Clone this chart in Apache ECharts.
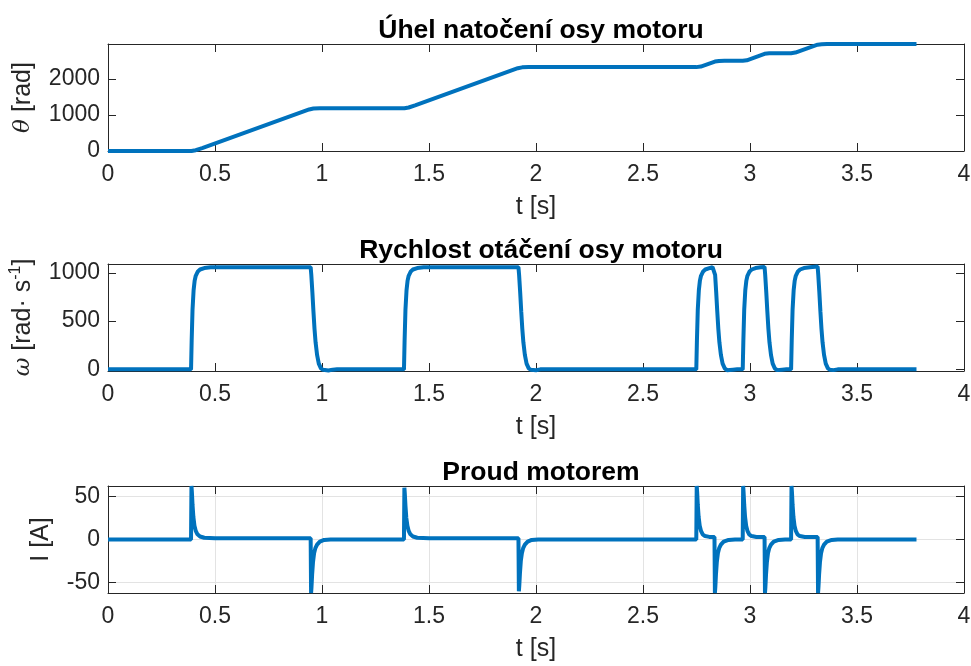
<!DOCTYPE html>
<html><head><meta charset="utf-8">
<script src="https://cdn.jsdelivr.net/npm/echarts@6/dist/echarts.min.js"></script>
<style>html,body{margin:0;padding:0;background:#fff}#c{width:971px;height:666px}</style>
</head><body><div id="c"></div>
<script>
// ---- data ----
const titles = ['Úhel natočení osy motoru', 'Rychlost otáčení osy motoru', 'Proud motorem'];
const xTicks = [0, 0.5, 1, 1.5, 2, 2.5, 3, 3.5, 4];
const thetaTicks = [0, 1000, 2000];
const omegaTicks = [0, 500, 1000];
const currentTicks = [-50, 0, 50];

const tTheta = [0, 0.39, 0.41, 0.44, 0.94, 0.96, 0.99, 1.385, 1.405, 1.435, 1.915, 1.935, 1.965, 2.749, 2.77, 2.836, 2.855, 2.88, 2.966, 2.985, 3.068, 3.09, 3.12, 3.192, 3.212, 3.316, 3.335, 3.36, 3.778];
const theta  = [0, 0, 22, 80, 1150, 1176, 1182, 1182, 1204, 1262, 2292, 2316, 2322, 2322, 2337, 2475, 2493, 2497, 2497, 2512, 2690, 2704, 2708, 2708, 2724, 2944, 2958, 2962, 2962];

const tOmega = [0, 0.388, 0.391, 0.395, 0.40, 0.405, 0.41, 0.42, 0.43, 0.45, 0.48, 0.947, 0.950, 0.955, 0.96, 0.965, 0.97, 0.977, 0.985, 0.995, 1.005, 1.03, 1.05, 1.07,
  1.383, 1.386, 1.39, 1.395, 1.40, 1.405, 1.415, 1.425, 1.445, 1.475, 1.918, 1.921, 1.926, 1.931, 1.936, 1.941, 1.948, 1.956, 1.966, 1.976, 2.0, 2.02,
  2.749, 2.752, 2.756, 2.761, 2.766, 2.771, 2.781, 2.791, 2.81, 2.825, 2.834, 2.837, 2.842, 2.847, 2.852, 2.857, 2.864, 2.872, 2.882, 2.892, 2.9, 2.92, 2.94,
  2.966, 2.969, 2.973, 2.978, 2.983, 2.988, 2.998, 3.008, 3.026, 3.05, 3.068, 3.071, 3.076, 3.081, 3.086, 3.091, 3.098, 3.106, 3.116, 3.126, 3.134, 3.15, 3.17,
  3.192, 3.195, 3.199, 3.204, 3.209, 3.214, 3.224, 3.234, 3.252, 3.28, 3.316, 3.319, 3.324, 3.329, 3.334, 3.339, 3.346, 3.354, 3.364, 3.374, 3.39, 3.41, 3.778];
const omega = [0, 0, 300, 620, 820, 920, 970, 1015, 1035, 1050, 1058, 1058, 980, 800, 600, 420, 280, 150, 60, 10, -5, -12, -3, 0,
  0, 300, 620, 820, 920, 970, 1015, 1035, 1050, 1058, 1058, 980, 800, 600, 420, 280, 150, 60, 10, -5, -10, 0,
  0, 300, 620, 820, 920, 970, 1015, 1035, 1050, 1060, 1062, 980, 800, 600, 420, 280, 150, 60, 10, -8, -14, -3, 0,
  0, 300, 620, 820, 920, 970, 1015, 1035, 1050, 1058, 1062, 980, 800, 600, 420, 280, 150, 60, 10, -8, -14, -3, 0,
  0, 300, 620, 820, 920, 970, 1015, 1035, 1050, 1058, 1065, 980, 800, 600, 420, 280, 150, 60, 10, -5, -8, 0, 0];

const tCurrent = [0, 0.388, 0.390, 0.392, 0.395, 0.399, 0.404, 0.41, 0.418, 0.43, 0.45, 0.5, 0.947, 0.949, 0.951, 0.954, 0.958, 0.963, 0.969, 0.977, 0.99, 1.01, 1.04,
  1.383, 1.385, 1.387, 1.390, 1.394, 1.399, 1.405, 1.413, 1.425, 1.445, 1.5, 1.918, 1.920, 1.922, 1.925, 1.929, 1.934, 1.940, 1.948, 1.961, 1.98, 2.01,
  2.749, 2.751, 2.753, 2.756, 2.76, 2.765, 2.771, 2.779, 2.79, 2.81, 2.834, 2.836, 2.838, 2.841, 2.845, 2.85, 2.856, 2.864, 2.877, 2.9, 2.93,
  2.966, 2.968, 2.970, 2.973, 2.977, 2.982, 2.988, 2.996, 3.007, 3.03, 3.068, 3.070, 3.072, 3.075, 3.079, 3.084, 3.090, 3.098, 3.111, 3.134, 3.164,
  3.192, 3.194, 3.196, 3.199, 3.203, 3.208, 3.214, 3.222, 3.233, 3.256, 3.316, 3.318, 3.320, 3.323, 3.327, 3.332, 3.338, 3.346, 3.359, 3.382, 3.41, 3.778];
const current = [0, 0, 62, 55, 40, 26, 16, 10, 6, 3.5, 2, 1.5, 1.5, -62, -55, -40, -26, -16, -10, -6, -2.5, -0.5, 0,
  0, 60, 53, 39, 25, 16, 10, 6, 3.5, 2, 1.5, 1.5, -60, -53, -39, -25, -16, -10, -6, -2.5, -0.5, 0,
  0, 62, 55, 40, 26, 16, 10, 6, 4, 3, 3, -62, -55, -40, -26, -16, -10, -6, -2.5, -0.5, 0,
  0, 62, 55, 40, 26, 16, 10, 6, 4, 3, 3, -62, -55, -40, -26, -16, -10, -6, -2.5, -0.5, 0,
  0, 62, 55, 40, 26, 16, 10, 6, 4, 3, 3, -62, -55, -40, -26, -16, -10, -6, -2.5, -0.5, 0, 0];

// ---- chart ----
const FONT = '"Liberation Sans", Arial, Helvetica, sans-serif';
const AX = '#262626';
const BLUE = '#0072BD';
const zip = (a, b) => a.map((v, i) => [v, b[i]]);
const fmt = v => String(v);

const gridTops = [44, 264, 486];
const yRanges = [[0, 2962], [-17, 1092], [-62, 62]];
const yTickSets = [thetaTicks, omegaTicks, currentTicks];
const yNames = ['{i|θ} [rad]', '{i|ω} [rad· s{s|-1}]', 'I [A]'];
const yGaps = [63, 60, 42];
const showGrid = [false, false, true];

const grids = [], xAxes = [], yAxes = [], series = [], titleArr = [];
for (let k = 0; k < 3; k++) {
  grids.push({left: 108, right: 7, top: gridTops[k], height: 107, containLabel: false, outerBoundsMode: 'none'});
  titleArr.push({text: titles[k], left: 536, textAlign: 'center', top: gridTops[k] - 32,
    textStyle: {fontFamily: FONT, fontSize: 26.5, fontWeight: 'bold', color: '#000'}});
  const lineCommon = {show: true, onZero: false, lineStyle: {color: AX, width: 1}};
  xAxes.push({gridIndex: k, type: 'value', min: 0, max: 4, interval: 0.5, position: 'bottom',
    axisLine: lineCommon,
    axisTick: {inside: true, length: 8, lineStyle: {color: AX}},
    axisLabel: {fontFamily: FONT, fontSize: 23, color: AX, margin: 12, showMinLabel: true, showMaxLabel: true, formatter: fmt},
    splitLine: {show: showGrid[k], lineStyle: {color: '#e3e3e3', width: 1}},
    name: 't [s]', nameLocation: 'middle', nameGap: 44,
    nameTextStyle: {fontFamily: FONT, fontSize: 25, color: AX}});
  xAxes.push({gridIndex: k, type: 'value', min: 0, max: 4, interval: 0.5, position: 'top',
    axisLine: lineCommon,
    axisTick: {inside: true, length: 8, lineStyle: {color: AX}},
    axisLabel: {show: false}, splitLine: {show: false}});
  const yt = yTickSets[k];
  yAxes.push({gridIndex: k, type: 'value', min: yRanges[k][0], max: yRanges[k][1], position: 'left',
    axisLine: lineCommon,
    axisTick: {inside: true, length: 8, lineStyle: {color: AX}, customValues: yt},
    axisLabel: {fontFamily: FONT, fontSize: 23, color: AX, margin: 8, customValues: yt, formatter: fmt},
    splitLine: {show: showGrid[k], lineStyle: {color: '#e3e3e3', width: 1}},
    name: yNames[k], nameLocation: 'middle', nameGap: yGaps[k], nameRotate: 90,
    nameTextStyle: {fontFamily: FONT, fontSize: 25, color: AX, lineHeight: 30,
      rich: {i: {fontFamily: '"DejaVu Serif", serif', fontStyle: 'italic', fontSize: 23, color: AX},
             s: {fontFamily: FONT, fontSize: 16, color: AX, verticalAlign: 'top', lineHeight: 30}}}});
  yAxes.push({gridIndex: k, type: 'value', min: yRanges[k][0], max: yRanges[k][1], position: 'right',
    axisLine: lineCommon,
    axisTick: {inside: true, length: 8, lineStyle: {color: AX}, customValues: yt},
    axisLabel: {show: false, customValues: yt}, splitLine: {show: false}});
}
series.push({type: 'line', xAxisIndex: 0, yAxisIndex: 0, data: zip(tTheta, theta)});
series.push({type: 'line', xAxisIndex: 2, yAxisIndex: 2, data: zip(tOmega, omega)});
series.push({type: 'line', xAxisIndex: 4, yAxisIndex: 4, data: zip(tCurrent, current)});
series.forEach(s => { s.showSymbol = false; s.symbol = 'none'; s.lineStyle = {color: BLUE, width: 4}; s.itemStyle = {color: BLUE}; s.z = 5; });

const chart = echarts.init(document.getElementById('c'), null, {renderer: 'canvas'});
chart.setOption({animation: false, backgroundColor: '#fff', title: titleArr, grid: grids, xAxis: xAxes, yAxis: yAxes, series: series});
</script></body></html>
